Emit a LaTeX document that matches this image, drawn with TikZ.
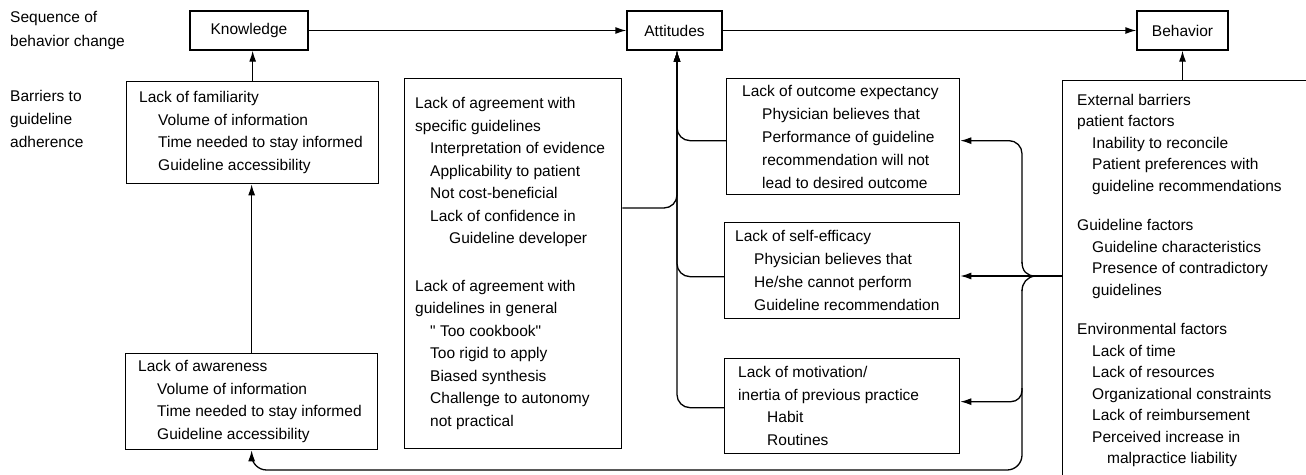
\documentclass[tikz,border=0pt]{standalone}
\usepackage{fontspec}
\setmainfont{Liberation Sans}
\usetikzlibrary{arrows.meta,calc}
\newcommand\indt[1]{\hspace*{#1pt}}
\begin{document}
\begin{tikzpicture}[x=1pt,y=-1pt,
  font=\fontsize{15.5}{22.5}\selectfont,
  box/.style={draw, line width=1.3pt, inner sep=0pt, anchor=north west},
  txt/.style={align=left, inner sep=0pt, anchor=west},
  stage/.style={draw, line width=1.3pt, inner sep=0pt, minimum height=39pt},
  conn/.style={line width=1.3pt},
  arr/.style={conn, -{Latex[length=11pt,width=7pt]}},
]
\clip (0,0) rectangle (1306,474);
\fill[white] (0,0) rectangle (1306,474);

% left labels
\node[txt, anchor=north west, font=\fontsize{15.5}{24}\selectfont] (lab1) at (10,11.5) {Sequence of\\behavior change};
\node[txt, anchor=north west, font=\fontsize{15.5}{23}\selectfont] (lab2) at (10,89.7) {Barriers to\\guideline\\adherence};

% stages
\node[stage, minimum width=118pt] (K) at (249,30.5) {Knowledge};
\node[stage, minimum width=95pt] (A) at (674.5,30.5) {Attitudes};
\node[stage, minimum width=91pt] (B) at (1182.5,30.5) {Behavior};

% barrier boxes
\node[box, minimum width=252pt, minimum height=102pt] (fam) at (126,81) {};
\node[txt] (famt) at ($(fam.west)+(13,0)$) {Lack of familiarity\\
\indt{19}Volume of information\\
\indt{19}Time needed to stay informed\\
\indt{19}Guideline accessibility};

\node[box, minimum width=252pt, minimum height=96pt] (awa) at (125,353) {};
\node[txt] (awat) at ($(awa.west)+(13,0)$) {Lack of awareness\\
\indt{19}Volume of information\\
\indt{19}Time needed to stay informed\\
\indt{19}Guideline accessibility};

\node[box, minimum width=217pt, minimum height=370pt] (agr) at (404,78) {};
\node[txt] (agrt) at ($(agr.west)+(11,0)$) {Lack of agreement with\\
specific guidelines\\
\indt{15}Interpretation of evidence\\
\indt{15}Applicability to patient\\
\indt{15}Not cost-beneficial\\
\indt{15}Lack of confidence in\\
\indt{34}Guideline developer\\[25pt]
Lack of agreement with\\
guidelines in general\\
\indt{15}\textquotedbl\ Too cookbook\textquotedbl\\
\indt{15}Too rigid to apply\\
\indt{15}Biased synthesis\\
\indt{15}Challenge to autonomy\\
\indt{15}not practical};

\node[box, minimum width=233pt, minimum height=116pt] (out) at (726,78) {};
\node[txt, font=\fontsize{15.5}{23}\selectfont] (outt) at ($(out.west)+(16,0)$) {Lack of outcome expectancy\\
\indt{20}Physician believes that\\
\indt{20}Performance of guideline\\
\indt{20}recommendation will not\\
\indt{20}lead to desired outcome};

\node[box, minimum width=235pt, minimum height=96pt] (eff) at (724,222) {};
\node[txt, font=\fontsize{15.5}{23}\selectfont] (efft) at ($(eff.west)+(11,0)$) {Lack of self-efficacy\\
\indt{19}Physician believes that\\
\indt{19}He/she cannot perform\\
\indt{19}Guideline recommendation};

\node[box, minimum width=235pt, minimum height=95pt] (mot) at (724,358) {};
\node[txt] (mott) at ($(mot.west)+(14,0)$) {Lack of motivation/\\
inertia of previous practice\\
\indt{29}Habit\\
\indt{29}Routines};

\node[box, minimum width=300pt, minimum height=420pt] (ext) at (1062,80) {};
\node[txt, anchor=north west, font=\fontsize{15.5}{21.5}\selectfont] (extt) at (1077,94) {External barriers\\
patient factors\\
\indt{15}Inability to reconcile\\
\indt{15}Patient preferences with\\
\indt{15}guideline recommendations\\[18pt]
Guideline factors\\
\indt{15}Guideline characteristics\\
\indt{15}Presence of contradictory\\
\indt{15}guidelines\\[18pt]
Environmental factors\\
\indt{15}Lack of time\\
\indt{15}Lack of resources\\
\indt{15}Organizational constraints\\
\indt{15}Lack of reimbursement\\
\indt{15}Perceived increase in\\
\indt{30}malpractice liability};

% sequence arrows
\draw[arr] (K.east) -- (A.west);
\draw[arr] (A.east) -- (B.west);
\draw[arr] (fam.north) -- (fam.north |- K.south);
\draw[arr] (awa.north) -- (awa.north |- fam.south);
\draw[arr] (B.south |- ext.north) -- (B.south);

% attitudes hub
\coordinate (hub) at ($(A.south)+(2.5,0)$);
\draw[arr, rounded corners=13pt] ($(agr.north east)+(0,130)$) -| (hub);
\draw[arr, rounded corners=13pt] ($(out.west)+(0,4)$) -| (hub);
\draw[arr, rounded corners=13pt] ($(eff.west)+(0,6)$) -| (hub);
\draw[arr, rounded corners=13pt] ($(mot.west)+(0,1.5)$) -| (hub);

% external barriers brace
\coordinate (tip) at (1035,276);
\draw[arr] (tip -| ext.west) -- (tip) -- (tip -| eff.east);
\draw[conn] (tip) .. controls (1027,276) and (1022,271) .. (1022,262);
\draw[arr, rounded corners=13pt] (1022,263) |- ($(out.east)+(0,4)$);
\draw[conn] (tip) .. controls (1027,277) and (1022,283) .. (1022,291);
\draw[arr, rounded corners=15pt] (1022,290) -- (1022,470) -- (awa.south |- 0,470) -- (awa.south);
\draw[arr, rounded corners=11pt] (1022,388) |- ($(mot.east)+(0,-4.5)$);
\end{tikzpicture}
\end{document}
